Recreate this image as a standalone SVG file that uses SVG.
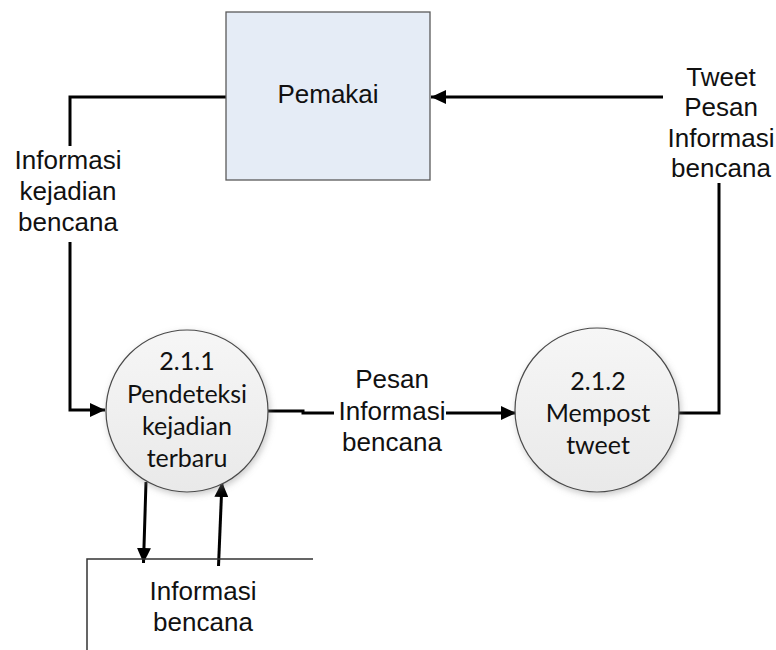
<svg xmlns="http://www.w3.org/2000/svg" width="776" height="650" viewBox="0 0 776 650">
  <style>
    .flow { fill: none; stroke: #000; stroke-width: 3; stroke-linejoin: miter; }
    .lbl { font-family: "Liberation Sans", Arial, sans-serif; font-size: 26px; fill: #111; text-anchor: middle; }
    .proc { font-family: Lato, "Open Sans", sans-serif; font-size: 25px; fill: #111; text-anchor: middle; }
    .bubble { fill: url(#bubbleFill); stroke: #4a4a4a; stroke-width: 1.2; filter: url(#soft); }
    .mask { fill: #fff; }
  </style>
  <defs>
    <linearGradient id="bubbleFill" x1="0" y1="0" x2="0" y2="1">
      <stop offset="0" stop-color="#f6f6f6"/>
      <stop offset="1" stop-color="#e9e9e9"/>
    </linearGradient>
    <filter id="soft" x="-20%" y="-20%" width="140%" height="140%">
      <feDropShadow dx="1.5" dy="2.5" stdDeviation="3" flood-color="#888" flood-opacity="0.45"/>
    </filter>
    <marker id="arrow" markerUnits="userSpaceOnUse" markerWidth="16" markerHeight="14" refX="15" refY="7" orient="auto">
      <path d="M0,0 L15,7 L0,14 Z" fill="#000"/>
    </marker>
  </defs>

  <rect width="776" height="650" fill="#fff"/>

  <!-- connectors -->
  <g id="connectors">
    <!-- Pemakai -> 2.1.1 -->
    <polyline class="flow" points="226,97 70,97 70,410 105,410" marker-end="url(#arrow)"/>
    <!-- 2.1.1 -> 2.1.2 -->
    <polyline class="flow" points="268,411 303,411 303,413 516,413" marker-end="url(#arrow)"/>
    <!-- 2.1.2 -> Pemakai -->
    <polyline class="flow" points="679,413 719,413 719,97 431,97" marker-end="url(#arrow)"/>
    <!-- 2.1.1 -> store -->
    <line class="flow" x1="146" y1="482" x2="143.5" y2="563" marker-end="url(#arrow)"/>
    <!-- store -> 2.1.1 -->
    <line class="flow" x1="218.5" y1="566" x2="222" y2="482" marker-end="url(#arrow)"/>

    <!-- flow labels -->
    <g id="label-kejadian">
      <rect class="mask" x="10" y="146" width="118" height="96"/>
      <text class="lbl" x="68" y="169">Informasi</text>
      <text class="lbl" x="68" y="200">kejadian</text>
      <text class="lbl" x="68" y="231">bencana</text>
    </g>
    <g id="label-pesan">
      <rect class="mask" x="334" y="398" width="112" height="24"/>
      <text class="lbl" x="392" y="388">Pesan</text>
      <text class="lbl" x="392" y="420">Informasi</text>
      <text class="lbl" x="392" y="451">bencana</text>
    </g>
    <g id="label-tweet">
      <rect class="mask" x="663" y="62" width="113" height="121"/>
      <text class="lbl" x="721" y="86">Tweet</text>
      <text class="lbl" x="721" y="116">Pesan</text>
      <text class="lbl" x="721" y="147">Informasi</text>
      <text class="lbl" x="721" y="177">bencana</text>
    </g>
  </g>

  <!-- external entity -->
  <g id="pemakai">
    <rect x="226" y="12" width="204" height="168" fill="#e5ecf6" stroke="#5a5a5a" stroke-width="1.3"/>
    <text class="lbl" x="328" y="103">Pemakai</text>
  </g>

  <!-- processes -->
  <g id="proc-2-1-1">
    <circle class="bubble" cx="187" cy="411" r="81"/>
    <text class="proc" x="187" y="370">2.1.1</text>
    <text class="proc" x="187" y="403">Pendeteksi</text>
    <text class="proc" x="187" y="435">kejadian</text>
    <text class="proc" x="187" y="467">terbaru</text>
  </g>
  <g id="proc-2-1-2">
    <circle class="bubble" cx="597" cy="410" r="82"/>
    <text class="proc" x="598" y="390">2.1.2</text>
    <text class="proc" x="598" y="422">Mempost</text>
    <text class="proc" x="598" y="454">tweet</text>
  </g>

  <!-- data store -->
  <g id="store-informasi-bencana">
    <polyline points="313,559 87,559 87,650" fill="none" stroke="#333" stroke-width="1.5"/>
    <text class="lbl" x="203" y="600">Informasi</text>
    <text class="lbl" x="203" y="631">bencana</text>
  </g>
</svg>
